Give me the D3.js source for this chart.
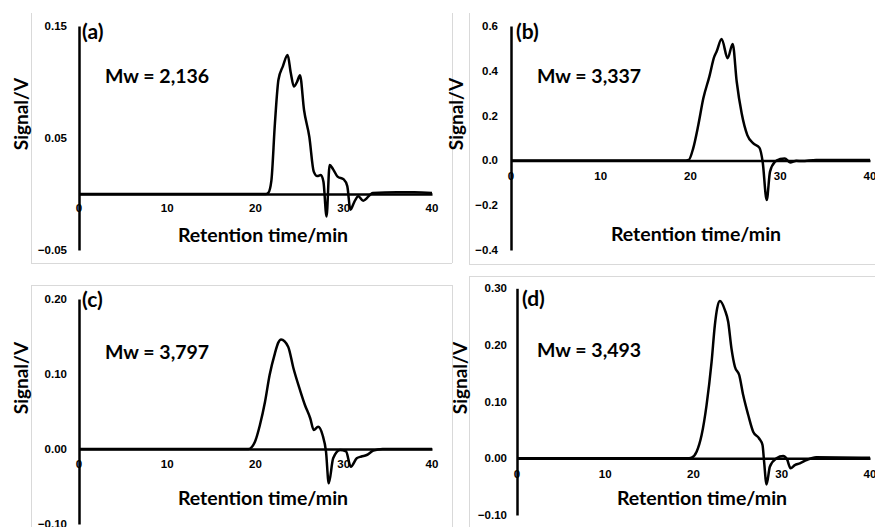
<!DOCTYPE html>
<html>
<head>
<meta charset="utf-8">
<script src="https://cdn.jsdelivr.net/npm/d3@7"></script>
<style>
  html, body { margin: 0; padding: 0; background: #fff; }
  svg { display: block; }
  .title { font-family: Lato, "Open Sans", sans-serif; font-weight: 700; fill: #000; }
  .tick-label { font-family: "Liberation Sans", Arial, sans-serif; font-weight: 700; font-size: 11.5px; fill: #000; }
</style>
</head>
<body>
<svg id="chart" width="875" height="527"></svg>
<script>
// ---------- data ----------
const panelLabels = ["(a)", "(b)", "(c)", "(d)"];
const mwLabels = ["Mw = 2,136", "Mw = 3,337", "Mw = 3,797", "Mw = 3,493"];
const xLabel = "Retention time/min";
const yLabel = "Signal/V";
const xTicks = [0, 10, 20, 30, 40];

const yTicksA = [-0.05, 0.05, 0.15];
const yTicksB = [-0.4, -0.2, 0.0, 0.2, 0.4, 0.6];
const yTicksC = [-0.10, 0.00, 0.10, 0.20];
const yTicksD = [-0.10, 0.00, 0.10, 0.20, 0.30];

const timeA   = [0, 10, 20, 21.2, 21.45, 21.8, 22.2, 22.6, 23.1, 23.64, 24.0, 24.35, 24.7, 25.04, 25.5, 26.1, 26.6, 27.0, 27.4, 27.7, 28.05, 28.4, 28.8, 29.3, 30.0, 30.4, 30.75, 31.2, 31.65, 32.2, 33.3, 36, 38, 40];
const signalA = [0, 0, 0, 0, 0.001, 0.012, 0.063, 0.102, 0.114, 0.124, 0.108, 0.096, 0.1, 0.106, 0.075, 0.051, 0.020, 0.016, 0.017, 0.011, -0.020, 0.026, 0.022, 0.0155, 0.013, 0.007, -0.014, -0.007, -0.002, -0.006, 0.001, 0.0015, 0.0015, 0.001];

const timeB   = [0, 10, 19.5, 19.8, 20.3, 20.87, 21.43, 22.1, 22.65, 22.9, 23.47, 24.14, 24.7, 25.15, 25.7, 26.33, 27.0, 27.67, 28.04, 28.49, 28.86, 29.42, 30.0, 30.5, 31.1, 31.8, 32.4, 34, 40];
const signalB = [0, 0, 0, 0.002, 0.054, 0.158, 0.277, 0.374, 0.463, 0.485, 0.542, 0.456, 0.52, 0.351, 0.21, 0.113, 0.076, 0.057, -0.006, -0.177, -0.05, -0.006, 0.006, 0.009, -0.009, -0.002, -0.003, 0.002, 0.002];

const timeC   = [0, 10, 19.2, 19.94, 20.5, 21.08, 21.6, 22.2, 22.58, 22.9, 23.7, 24.3, 25.04, 25.6, 26.2, 26.6, 27.1, 27.6, 27.99, 28.3, 28.8, 29.58, 30.25, 30.8, 31.47, 32.0, 32.6, 33.35, 34.4, 40];
const signalC = [0, 0, 0, 0.0097, 0.032, 0.063, 0.0987, 0.1276, 0.1418, 0.146, 0.1364, 0.1076, 0.0787, 0.0587, 0.041, 0.0253, 0.0298, 0.0187, -0.0036, -0.0458, -0.0124, -0.0013, -0.003, -0.0236, -0.0124, -0.010, -0.008, -0.0022, 0, 0];

const timeD   = [0, 10, 19.5, 19.79, 20.35, 20.92, 21.48, 22.05, 22.42, 22.68, 22.99, 23.56, 23.93, 24.3, 24.69, 25.18, 25.63, 26.2, 26.76, 27.44, 27.82, 28.0, 28.28, 28.65, 29.4, 30.16, 30.6, 31.0, 31.48, 32.05, 32.8, 33.9, 40];
const signalD = [0, 0, 0, 0.001, 0.0116, 0.041, 0.094, 0.170, 0.235, 0.2646, 0.2775, 0.2616, 0.241, 0.194, 0.1616, 0.147, 0.1116, 0.0764, 0.047, 0.035, 0.0235, -0.006, -0.046, -0.0148, 0, 0.004, -0.002, -0.0176, -0.012, -0.009, -0.003, 0.002, 0.001];

// ---------- layout ----------
const panels = [
  { time: timeA, signal: signalA, yTicks: yTicksA, fmt: d3.format(".2f"), yDom: [-0.05, 0.15],
    xr: [79, 432], yr: [250, 26], box: {x0: 31, x1: 452, y0: 13, y1: 263, sides: "lrb"},
    lab: [82, 39], mw: [105, 83], sig: [28, 114], ret: [263, 242], tickGap: 12, xlY: 18 },
  { time: timeB, signal: signalB, yTicks: yTicksB, fmt: d3.format(".1f"), yDom: [-0.4, 0.6],
    xr: [511, 870], yr: [250, 26], box: {x0: 469, x1: 900, y0: 13, y1: 264, sides: "lb"},
    lab: [516, 39], mw: [537, 83], sig: [463, 114], ret: [696, 241], tickGap: 13, xlY: 19.5 },
  { time: timeC, signal: signalC, yTicks: yTicksC, fmt: d3.format(".2f"), yDom: [-0.1, 0.2],
    xr: [79, 432], yr: [524, 299], box: {x0: 31, x1: 452, y0: 285, y1: 600, sides: "tlr"},
    lab: [82, 307], mw: [105, 359], sig: [28, 378], ret: [263, 505], tickGap: 12, xlY: 19 },
  { time: timeD, signal: signalD, yTicks: yTicksD, fmt: d3.format(".2f"), yDom: [-0.1, 0.3],
    xr: [517, 870], yr: [515, 288.3], box: {x0: 469, x1: 900, y0: 276, y1: 600, sides: "tl"},
    lab: [522, 306], mw: [537, 357], sig: [467, 378], ret: [702, 505], tickGap: 10, xlY: 20 }
];

const svg = d3.select("#chart");

panels.forEach((p, i) => {
  const g = svg.append("g");
  const x = d3.scaleLinear().domain([0, 40]).range(p.xr);
  const y = d3.scaleLinear().domain(p.yDom).range(p.yr);

  // panel border (light gray)
  const b = p.box, bc = "#d9d9d9";
  const seg = (x1, y1, x2, y2) => g.append("line").attr("x1", x1).attr("y1", y1).attr("x2", x2).attr("y2", y2)
    .attr("stroke", bc).attr("stroke-width", 1).attr("shape-rendering", "crispEdges");
  if (b.sides.includes("t")) seg(b.x0, b.y0, b.x1, b.y0);
  if (b.sides.includes("l")) seg(b.x0, b.y0, b.x0, b.y1);
  if (b.sides.includes("r")) seg(b.x1, b.y0, b.x1, b.y1);
  if (b.sides.includes("b")) seg(b.x0, b.y1, b.x1, b.y1);

  // y tick labels
  g.selectAll(".yl").data(p.yTicks).enter().append("text")
    .attr("class", "tick-label")
    .attr("x", p.xr[0] - p.tickGap)
    .attr("y", d => y(d))
    .attr("dy", "0.35em")
    .attr("text-anchor", "end")
    .text(d => p.fmt(d));

  // x tick labels (low position, below the zero line)
  g.selectAll(".xl").data(xTicks).enter().append("text")
    .attr("class", "tick-label")
    .attr("x", d => x(d))
    .attr("y", y(0) + p.xlY)
    .attr("text-anchor", "middle")
    .text(d => d);

  // axes
  const xAxis = d3.axisBottom(x).tickValues([]).tickSizeOuter(0);
  g.append("g").attr("transform", `translate(0,${y(0)})`).call(xAxis)
    .select(".domain").attr("stroke", "#000").attr("stroke-width", 2.5);
  const yAxis = d3.axisLeft(y).tickValues([]).tickSizeOuter(0);
  g.append("g").attr("transform", `translate(${x(0)},0)`).call(yAxis)
    .select(".domain").attr("stroke", "#000").attr("stroke-width", 2.5);

  // curve
  const pts = p.time.map((t, k) => [t, p.signal[k]]);
  const line = d3.line().x(d => x(d[0])).y(d => y(d[1])).curve(d3.curveMonotoneX);
  g.append("path").datum(pts).attr("d", line)
    .attr("fill", "none").attr("stroke", "#000").attr("stroke-width", 2.5).attr("stroke-linejoin", "round");

  // texts
  g.append("text").attr("class", "title").attr("x", p.lab[0]).attr("y", p.lab[1])
    .attr("font-size", 21).text(panelLabels[i]);
  g.append("text").attr("class", "title").attr("x", p.mw[0]).attr("y", p.mw[1])
    .attr("font-size", 19.5).text(mwLabels[i]);
  g.append("text").attr("class", "title")
    .attr("transform", `translate(${p.sig[0]},${p.sig[1]}) rotate(-90)`)
    .attr("text-anchor", "middle").attr("font-size", 19).text(yLabel);
  g.append("text").attr("class", "title").attr("x", p.ret[0]).attr("y", p.ret[1])
    .attr("text-anchor", "middle").attr("font-size", 19.5).text(xLabel);
});
</script>
</body>
</html>
